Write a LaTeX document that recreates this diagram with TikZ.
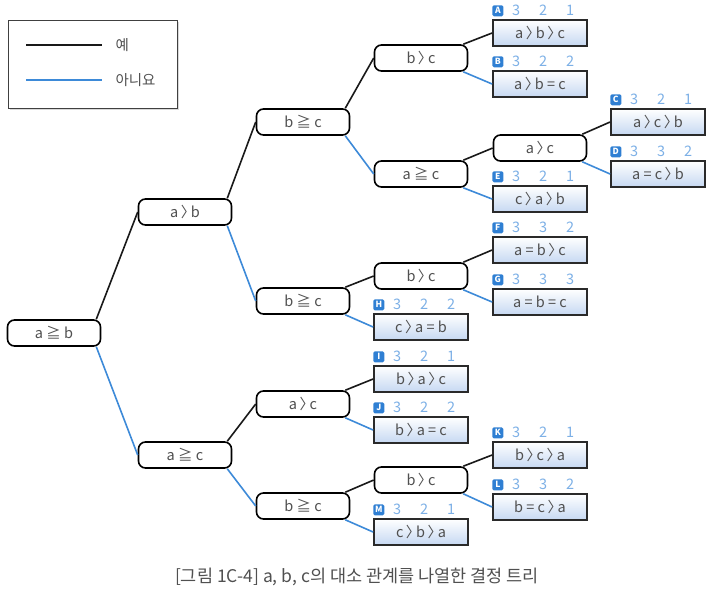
\documentclass[tikz,border=0pt]{standalone}
\usepackage{fontspec}
\setmainfont{Noto Sans CJK KR}
\usetikzlibrary{shadows}

\definecolor{textgray}{HTML}{505050}
\definecolor{noblue}{HTML}{3D8AD8}
\definecolor{rankblue}{HTML}{7DB0E6}
\definecolor{tagblue}{HTML}{2F7FD3}
\definecolor{leafblue}{HTML}{C6D8F2}
\definecolor{leafline}{HTML}{2A2A2A}

\newcommand{\gtsign}{\kern2.5pt〉\kern-0.3em}
\newcommand{\rankrow}[5]{%
  \node[tag] at ([yshift=14pt]#1.north west) {#2};
  \node[rank] at ([xshift=24pt,yshift=4pt]#1.north west) {#3};
  \node[rank] at ([xshift=51pt,yshift=4pt]#1.north west) {#4};
  \node[rank] at ([xshift=78pt,yshift=4pt]#1.north west) {#5};
}

\begin{document}
\begin{tikzpicture}[x=1pt,y=-1pt,
  test/.style={draw=black, line width=1.6pt, rounded corners=7pt, fill=white,
    minimum width=93pt, minimum height=26pt, inner sep=0pt, text=textgray,
    font=\fontsize{14.5}{16}\selectfont},
  leaf/.style={draw=leafline, line width=1.8pt, top color=white, bottom color=leafblue,
    minimum width=94pt, minimum height=26pt, inner sep=0pt, text=textgray,
    font=\fontsize{14.5}{16}\selectfont,
    drop shadow={shadow xshift=1.2pt, shadow yshift=-1.2pt, opacity=0.3}},
  tag/.style={anchor=north west, fill=tagblue, rounded corners=1.5pt, text=white,
    minimum width=11pt, minimum height=11pt, inner sep=0pt,
    font=\fontsize{8.5}{9}\selectfont\bfseries},
  rank/.style={anchor=base, text=rankblue, inner sep=0pt,
    font=\fontsize{14.5}{16}\selectfont},
  yes/.style={draw=black!90, line width=1.6pt},
  no/.style={draw=noblue, line width=1.6pt}]
\useasboundingbox (0,0) rectangle (714,592);

% legend
\draw[line width=1pt, draw=black!75, fill=white,
  drop shadow={shadow xshift=1.5pt, shadow yshift=-1.5pt, opacity=0.3}] (8,20) rectangle (177,108);
\draw[yes] (26,45) -- (102,45);
\draw[no] (26,80) -- (102,80);
\node[anchor=west, text=textgray, font=\fontsize{14.5}{16}\selectfont] at (112,45) {예};
\node[anchor=west, text=textgray, font=\fontsize{14.5}{16}\selectfont] at (112,80) {아니요};

% tests
\node[test] (root) at (54,333) {a ≧ b};
\node[test] (ab) at (185,212) {a\gtsign b};
\node[test] (ac) at (185,455) {a ≧ c};
\node[test] (bc1) at (303,122) {b ≧ c};
\node[test] (bc2) at (303,301) {b ≧ c};
\node[test] (ac2) at (303,404) {a\gtsign c};
\node[test] (bc3) at (303,506) {b ≧ c};
\node[test] (bc4) at (421,58) {b\gtsign c};
\node[test] (ac3) at (421,174) {a ≧ c};
\node[test] (bc5) at (421,276) {b\gtsign c};
\node[test] (bc6) at (421,480) {b\gtsign c};
\node[test] (ac4) at (540,148) {a\gtsign c};

% results
\node[leaf] (A) at (540,33) {a\gtsign b\gtsign c};
\node[leaf] (B) at (540,84) {a\gtsign b = c};
\node[leaf] (C) at (658,122) {a\gtsign c\gtsign b};
\node[leaf] (D) at (658,174) {a = c\gtsign b};
\node[leaf] (E) at (540,199) {c\gtsign a\gtsign b};
\node[leaf] (F) at (540,250) {a = b\gtsign c};
\node[leaf] (G) at (540,302) {a = b = c};
\node[leaf] (H) at (421,327) {c\gtsign a = b};
\node[leaf] (I) at (421,379) {b\gtsign a\gtsign c};
\node[leaf] (J) at (421,430) {b\gtsign a = c};
\node[leaf] (K) at (540,455) {b\gtsign c\gtsign a};
\node[leaf] (L) at (540,507) {b = c\gtsign a};
\node[leaf] (M) at (421,532) {c\gtsign b\gtsign a};

\rankrow{A}{A}{3}{2}{1}
\rankrow{B}{B}{3}{2}{2}
\rankrow{C}{C}{3}{2}{1}
\rankrow{D}{D}{3}{3}{2}
\rankrow{E}{E}{3}{2}{1}
\rankrow{F}{F}{3}{3}{2}
\rankrow{G}{G}{3}{3}{3}
\rankrow{H}{H}{3}{2}{2}
\rankrow{I}{I}{3}{2}{1}
\rankrow{J}{J}{3}{2}{2}
\rankrow{K}{K}{3}{2}{1}
\rankrow{L}{L}{3}{3}{2}
\rankrow{M}{M}{3}{2}{1}

% branches
\draw[yes] ([xshift=-5pt]root.north east) -- (ab.west);
\draw[no] ([xshift=-5pt]root.south east) -- (ac.west);
\draw[yes] ([xshift=-5pt]ab.north east) -- (bc1.west);
\draw[no] ([xshift=-5pt]ab.south east) -- (bc2.west);
\draw[yes] ([xshift=-5pt]ac.north east) -- (ac2.west);
\draw[no] ([xshift=-5pt]ac.south east) -- (bc3.west);
\draw[yes] ([xshift=-5pt]bc1.north east) -- (bc4.west);
\draw[no] ([xshift=-5pt]bc1.south east) -- (ac3.west);
\draw[yes] ([xshift=-5pt]bc2.north east) -- (bc5.west);
\draw[no] ([xshift=-5pt]bc2.south east) -- (H.west);
\draw[yes] ([xshift=-5pt]ac2.north east) -- (I.west);
\draw[no] ([xshift=-5pt]ac2.south east) -- (J.west);
\draw[yes] ([xshift=-5pt]bc3.north east) -- (bc6.west);
\draw[no] ([xshift=-5pt]bc3.south east) -- (M.west);
\draw[yes] ([xshift=-5pt]bc4.north east) -- (A.west);
\draw[no] ([xshift=-5pt]bc4.south east) -- (B.west);
\draw[yes] ([xshift=-5pt]ac3.north east) -- (ac4.west);
\draw[no] ([xshift=-5pt]ac3.south east) -- (E.west);
\draw[yes] ([xshift=-5pt]bc5.north east) -- (F.west);
\draw[no] ([xshift=-5pt]bc5.south east) -- (G.west);
\draw[yes] ([xshift=-5pt]bc6.north east) -- (K.west);
\draw[no] ([xshift=-5pt]bc6.south east) -- (L.west);
\draw[yes] ([xshift=-5pt]ac4.north east) -- (C.west);
\draw[no] ([xshift=-5pt]ac4.south east) -- (D.west);

\node[text=textgray, font=\fontsize{17.5}{20}\selectfont] (caption) at (357,577)
  {[그림 1C-4] a, b, c의 대소 관계를 나열한 결정 트리};
\end{tikzpicture}
\end{document}
